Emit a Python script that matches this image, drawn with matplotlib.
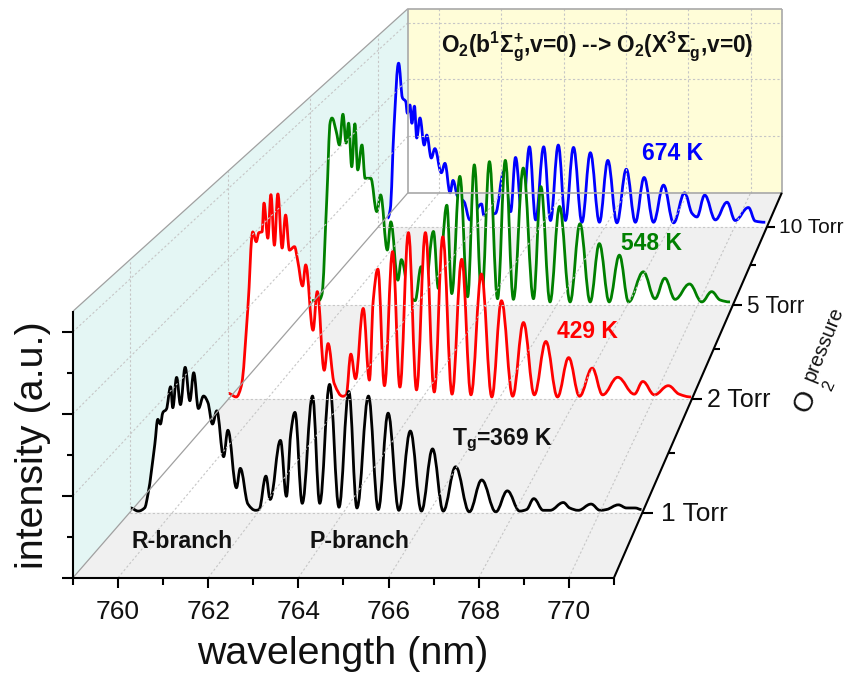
import numpy as np
import matplotlib
matplotlib.use('Agg')
import matplotlib.pyplot as plt
from matplotlib.path import Path
from matplotlib.patches import PathPatch, Polygon

plt.rcParams['font.family'] = ['Liberation Sans', 'DejaVu Sans']
plt.rcParams['mathtext.fontset'] = 'custom'
plt.rcParams['mathtext.rm'] = 'Liberation Sans:bold'
plt.rcParams['mathtext.bf'] = 'Liberation Sans:bold'
plt.rcParams['mathtext.it'] = 'Liberation Sans:bold'

# spectra: wavelength in nm, intensity in a.u.
wl_1 = [759.02,759.20,759.35,759.43,759.59,759.66,759.72,759.78,759.86,759.96,760.01,760.10,760.19,760.30,760.41,760.50,
        760.61,760.73,760.83,760.94,761.04,761.20,761.30,761.50,761.59,761.77,761.95,762.03,762.19,762.29,762.53,762.67,
        762.77,762.87,763.04,763.28,763.45,763.68,763.90,764.13,764.32,764.59,764.82,765.05,765.30,765.57,765.83,766.09,
        766.34,766.63,766.95,767.24,767.57,767.84,768.13,768.29,768.46,768.68,768.84,769.15,769.30,769.50,769.80,770.01,
        770.16,770.44,770.63,770.83,770.98]
int_1 = [.06,.02,.06,.24,.88,1.20,1.14,1.29,1.33,1.62,1.35,1.74,1.39,1.87,1.44,1.80,
         1.34,1.50,1.42,1.14,1.31,.72,1.06,.32,.57,.11,.03,.04,.47,.17,.93,.21,
         1.01,1.29,.12,1.50,.12,1.65,.07,1.56,.06,1.50,.04,1.28,.03,1.05,.02,.82,
         .02,.59,.01,.42,.01,.28,.02,.04,.18,.03,.03,.13,.06,.03,.11,.03,
         .04,.10,.06,.06,.04]

wl_2 = [759.00,759.20,759.33,759.50,759.63,759.72,759.79,759.87,759.92,760.02,760.10,760.19,760.28,760.39,760.48,760.58,
        760.71,760.79,760.92,761.00,761.19,761.30,761.48,761.58,761.74,761.96,762.05,762.17,762.29,762.49,762.65,762.75,
        762.87,763.04,763.25,763.44,763.66,763.87,764.10,764.33,764.55,764.79,765.04,765.28,765.55,765.82,766.07,766.36,
        766.64,766.92,767.22,767.52,767.81,768.09,768.42,768.69,769.08,769.51,769.73,770.03,770.39,770.67,770.98]
int_2 = [.08,.03,.18,1.27,2.38,2.24,2.37,2.38,2.79,2.29,2.91,2.19,2.92,2.15,2.62,2.12,
         2.17,1.98,1.61,1.91,.98,1.53,.41,.79,.22,.04,.06,.64,.29,1.29,.27,1.41,
         1.85,.19,2.10,.17,2.37,.13,2.37,.10,2.31,.07,1.99,.06,1.78,.03,1.40,.04,
         1.09,.06,.82,.03,.59,.04,.44,.06,.31,.07,.25,.06,.19,.07,.03]

wl_5 = [759.05,759.24,759.33,759.47,759.57,759.62,759.74,759.83,759.93,760.02,760.09,760.18,760.27,760.35,760.47,760.56,
        760.72,760.89,761.00,761.19,761.29,761.49,761.59,761.79,761.98,762.15,762.26,762.50,762.64,762.88,763.02,763.25,
        763.47,763.66,763.87,764.09,764.32,764.54,764.77,765.05,765.34,765.55,765.81,766.08,766.38,766.66,766.95,767.21,
        767.49,767.78,768.04,768.46,768.79,769.07,769.36,769.77,770.12,770.40,770.64,770.92]
int_5 = [.07,.07,.16,1.64,2.86,2.92,2.71,2.50,2.98,2.53,2.84,2.16,2.83,2.11,2.50,1.98,
         1.98,1.46,1.72,.86,1.30,.39,.71,.21,.07,.60,.25,1.15,.26,1.56,.18,2.01,
         .13,2.19,.10,2.24,.10,2.26,.09,2.14,.10,1.85,.05,1.54,.05,1.27,.05,.96,
         .05,.78,.05,.52,.10,.42,.09,.33,.05,.21,.08,.05]

wl_10 = [759.29,759.37,759.49,759.63,759.75,759.85,759.90,759.98,760.04,760.12,760.19,760.29,760.42,760.50,760.64,760.75,
         760.95,761.06,761.22,761.31,761.45,761.65,761.83,762.19,762.26,762.62,762.88,763.09,763.24,763.45,763.67,763.86,
         764.11,764.32,764.56,764.78,765.03,765.29,765.55,765.83,766.09,766.37,766.66,766.94,767.21,767.50,767.81,768.12,
         768.46,768.69,768.84,769.08,769.41,769.77,770.02,770.43,770.64,770.95]
int_10 = [.15,.29,1.71,2.78,2.19,2.13,1.93,2.07,1.76,2.05,1.51,1.85,1.39,1.56,1.17,1.33,
          .92,1.08,.58,.79,.52,.43,.12,.39,.20,.23,.94,.26,1.18,.12,1.36,.12,
          1.36,.11,1.39,.11,1.35,.08,1.26,.08,1.13,.07,.98,.08,.84,.08,.71,.07,
          .58,.23,.17,.54,.12,.42,.11,.33,.10,.08]

spectra = [(wl_10, int_10, 'blue'), (wl_5, int_5, 'green'), (wl_2, int_2, 'red'), (wl_1, int_1, 'black')]

row_labels = ['1 Torr', '2 Torr', '5 Torr', '10 Torr']
row_depth = [0.169, 0.464, 0.708, 0.911]   # where the rows sit on the floor
row_minor = [0.325, 0.593, 0.813]
wl_major = [760, 762, 764, 766, 768, 770]
wl_minor = [759, 761, 763, 765, 767, 769, 771]
z_major = [1, 2, 3]
z_minor = [0.5, 1.5, 2.5]
Z_TOP = 3.25

# the row labels shrink with depth too
row_fontsize = [19, 18, 16.3, 15]
row_ticklen = [11, 10, 9, 8]
row_labelpad = [19, 15, 14, 12]


def project(w, depth, z=0.0):
    # perspective box: front face at depth 0, back wall at depth 1
    w = np.asarray(w, dtype=float)
    z = np.asarray(z, dtype=float)
    s = 1 - 0.309 * depth
    x = 73 + 335 * depth + (w - 759) / 12 * 541 * s
    y = 577.7 - 385 * depth - z * 82 * s + 0 * w
    return x, y


def smooth_path(x, y):
    # monotone bezier through the read points
    dx = np.diff(x)
    sl = np.diff(y) / dx
    m = np.zeros(len(x))
    for i in range(1, len(x) - 1):
        if sl[i - 1] * sl[i] > 0:
            m[i] = 2 * sl[i - 1] * sl[i] / (sl[i - 1] + sl[i])
    verts = [(x[0], y[0])]
    codes = [Path.MOVETO]
    h = 0.38
    for i in range(len(dx)):
        verts.append((x[i] + dx[i] * h, y[i] + m[i] * dx[i] * h))
        verts.append((x[i + 1] - dx[i] * h, y[i + 1] - m[i + 1] * dx[i] * h))
        verts.append((x[i + 1], y[i + 1]))
        codes += [Path.CURVE4] * 3
    return verts, codes


fig = plt.figure(figsize=(8.49, 6.75), dpi=100)
ax = fig.add_axes([0, 0, 1, 1])
ax.set_xlim(0, 849)
ax.set_ylim(675, 0)
ax.axis('off')


def seg(p, q, **kw):
    ax.plot([p[0], q[0]], [p[1], q[1]], solid_capstyle='butt', **kw)


# walls and floor
w0, w1 = 759, 771
ax.add_patch(Polygon([project(w0, 0), project(w0, 0, Z_TOP), project(w0, 1, Z_TOP), project(w0, 1)],
                     fc='#E4F6F4', ec='none'))
ax.add_patch(Polygon([project(w0, 1), project(w0, 1, Z_TOP), project(w1, 1, Z_TOP), project(w1, 1)],
                     fc='#FFFDD8', ec='none'))
ax.add_patch(Polygon([project(w0, 0), project(w1, 0), project(w1, 1), project(w0, 1)],
                     fc='#F0F0F0', ec='none'))

grid = dict(color='#c6c6c6', lw=0.8, ls=(0, (2, 2)))
for w in wl_major:
    seg(project(w, 0), project(w, 1), **grid)
    seg(project(w, 1), project(w, 1, Z_TOP), **grid)
for d in row_depth:
    seg(project(w0, d), project(w1, d), **grid)
    seg(project(w0, d), project(w0, d, Z_TOP), **grid)
for z in z_major:
    seg(project(w0, 0, z), project(w0, 1, z), **grid)
    seg(project(w0, 1, z), project(w1, 1, z), **grid)

edge = dict(color='#a8a8a8', lw=1.2)
seg(project(w0, 0), project(w0, 1), color='#a0a0a0', lw=0.9)
seg(project(w0, 0, Z_TOP), project(w0, 1, Z_TOP), color='#a0a0a0', lw=0.9)
seg(project(w0, 1), project(w0, 1, Z_TOP), **edge)
seg(project(w0, 1, Z_TOP), project(w1, 1, Z_TOP), **edge)
seg(project(w1, 1, Z_TOP), project(w1, 1), **edge)
seg(project(w0, 1), project(w1, 1), **edge)

# spectra back to front, white under each curve
for (wl, inten, col), d in zip(spectra, row_depth[::-1]):
    x, y = project(wl, d, inten)
    verts, codes = smooth_path(x, y)
    bx, by = project([wl[-1], wl[0]], d)
    ax.add_patch(PathPatch(Path(verts + [(bx[0], by[0]), (bx[1], by[1]), (x[0], y[0])],
                                codes + [Path.LINETO, Path.LINETO, Path.CLOSEPOLY]),
                           fc='white', ec='none'))
    ax.add_patch(PathPatch(Path(verts, codes), fc='none', ec=col, lw=2.0, joinstyle='round'))

# axes
axis = dict(color='black', lw=1.5)
seg((project(w0, 0)[0] - 11, project(w0, 0)[1]), project(w1, 0), **axis)
seg(project(w0, 0), project(w0, 0, Z_TOP), **axis)
seg(project(w1, 0), project(w1, 1), **axis)
for w in wl_major + wl_minor:
    x, y = project(w, 0)
    seg((x, y), (x, y + (10 if w in wl_major else 7)), **axis)
    if w in wl_major:
        ax.text(x, 612, str(w), fontsize=19, ha='center', va='center', color='#111111')
for z in z_major + z_minor:
    x, y = project(w0, 0, z)
    seg((x, y), (x - (11 if z in z_major else 6), y), **axis)
for d, lab, fs, tl, pad in zip(row_depth, row_labels, row_fontsize, row_ticklen, row_labelpad):
    x, y = project(w1, d)
    seg((x, y), (x + tl, y), **axis)
    ax.text(x + pad, y + 1, lab, fontsize=fs, ha='left', va='center', color='#111111')
for d in row_minor:
    x, y = project(w1, d)
    seg((x, y), (x + 6, y), **axis)

# labels
ax.text(343, 654, 'wavelength (nm)', fontsize=28.4, ha='center', va='center', color='#111111')
ax.text(33, 445, 'intensity (a.u.)', fontsize=28.4, rotation=90, ha='center', va='center', color='#111111')
ax.text(806, 401, 'O', fontsize=20, rotation=66, rotation_mode='anchor', ha='center', va='center', color='#111111')
ax.text(829, 386, '2', fontsize=12, rotation=66, rotation_mode='anchor', ha='center', va='center', color='#111111')
ax.text(824, 344, 'pressure', fontsize=14.5, rotation=68, rotation_mode='anchor', ha='center', va='center', color='#111111')

bold = dict(fontweight='bold', ha='center', va='center')
ax.text(597, 47, r'O$_{2}$(b$^{1}\Sigma_{g}^{+}$,v=0) --> O$_{2}$(X$^{3}\Sigma_{g}^{\text{-}}$,v=0)',
        fontsize=16.3, color='#111111', **bold)
ax.text(673, 153, '674 K', fontsize=16.5, color='blue', **bold)
ax.text(652, 244, '548 K', fontsize=16.5, color='green', **bold)
ax.text(587, 331, '429 K', fontsize=16.5, color='red', **bold)
ax.text(502, 440, r'T$_{g}$=369 K', fontsize=16.5, color='#111111', **bold)
ax.text(182, 542, 'R-branch', fontsize=16.7, color='#111111', **bold)
ax.text(359, 541, 'P-branch', fontsize=16.7, color='#111111', **bold)

fig.savefig('out.png', dpi=100)
